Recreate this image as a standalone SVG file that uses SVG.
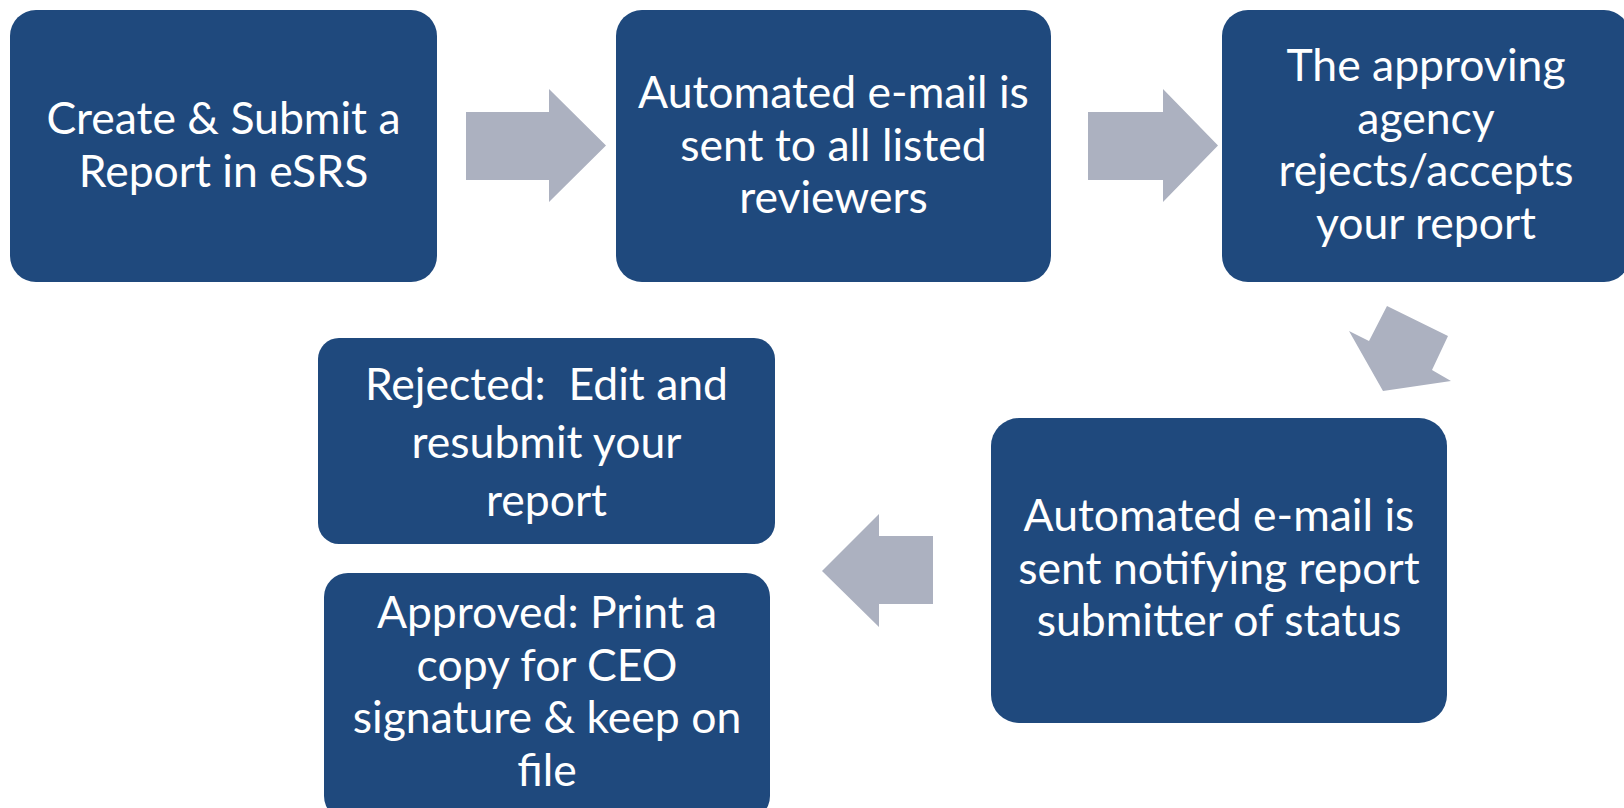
<svg xmlns="http://www.w3.org/2000/svg" width="1624" height="808" viewBox="0 0 1624 808">
<style>
.box{fill:#1F497D;}
.arrow{fill:#ACB1C0;}
.t{font-family:Lato,"Open Sans","Liberation Sans",sans-serif;font-size:44.5px;fill:#FFFFFF;text-anchor:middle;}
</style>
<rect x="0" y="0" width="1624" height="808" fill="#FFFFFF"/>
<g id="connectors">
<polygon class="arrow" points="466,112 549,112 549,89 606,145.5 549,202 549,180 466,180"/>
<polygon class="arrow" points="1088,112 1163,112 1163,89 1218,145.5 1163,202 1163,180 1088,180"/>
<polygon class="arrow" points="1387,306 1448,336 1432,370 1451,381 1383,391 1349,331 1369,341"/>
<polygon class="arrow" points="933,536 879,536 879,514 822,571 879,627 879,604 933,604"/>
</g>
<g id="node-create">
<rect class="box" x="10" y="10" width="427" height="272" rx="26"/>
<text class="t" x="223.5" y="134">Create &amp; Submit a</text>
<text class="t" x="223.5" y="187">Report in eSRS</text>
</g>
<g id="node-email">
<rect class="box" x="616" y="10" width="435" height="272" rx="26"/>
<text class="t" x="833.5" y="108">Automated e-mail is</text>
<text class="t" x="833.5" y="160.5">sent to all listed</text>
<text class="t" x="833.5" y="213">reviewers</text>
</g>
<g id="node-agency">
<rect class="box" x="1222" y="10" width="408" height="272" rx="26"/>
<text class="t" x="1426" y="81">The approving</text>
<text class="t" x="1426" y="133.5">agency</text>
<text class="t" x="1426" y="186">rejects/accepts</text>
<text class="t" x="1426" y="238.5">your report</text>
</g>
<g id="node-notify">
<rect class="box" x="991" y="418" width="456" height="305" rx="28"/>
<text class="t" x="1219" y="531">Automated e-mail is</text>
<text class="t" x="1219" y="584">sent notifying report</text>
<text class="t" x="1219" y="636">submitter of status</text>
</g>
<g id="node-rejected">
<rect class="box" x="318" y="338" width="457" height="206" rx="21"/>
<text class="t" x="546.5" y="400" xml:space="preserve">Rejected:  Edit and</text>
<text class="t" x="546.5" y="458">resubmit your</text>
<text class="t" x="546.5" y="516">report</text>
</g>
<g id="node-approved">
<rect class="box" x="324" y="573" width="446" height="247" rx="24"/>
<text class="t" x="547" y="628">Approved: Print a</text>
<text class="t" x="547" y="680.5">copy for CEO</text>
<text class="t" x="547" y="733">signature &amp; keep on</text>
<text class="t" x="547" y="785.5">file</text>
</g>
</svg>
